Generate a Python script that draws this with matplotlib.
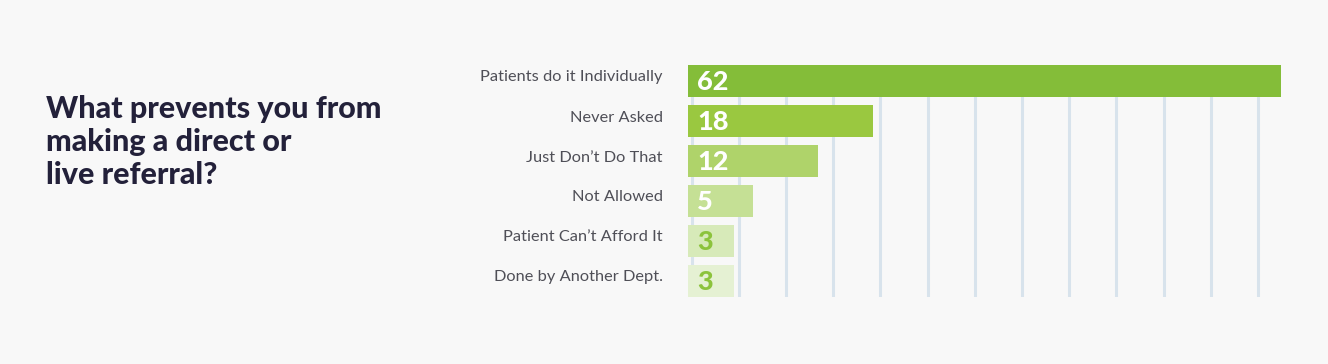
import numpy as np
import matplotlib.pyplot as plt
from matplotlib import transforms

categories = [
    "Patients do it Individually",
    "Never Asked",
    "Just Don\u2019t Do That",
    "Not Allowed",
    "Patient Can\u2019t Afford It",
    "Done by Another Dept.",
]
values = [62, 18, 12, 5, 3, 3]
bar_colors = ["#84bd39", "#9ac840", "#afd36a", "#c5e095", "#d7eab9", "#e5f1d3"]
label_colors = ["white", "white", "white", "white", "#8cc33c", "#8cc33c"]
title = "What prevents you from\nmaking a direct or\nlive referral?"

bg = "#f8f8f8"
fig = plt.figure(figsize=(13.28, 3.64), dpi=100, facecolor=bg)

# title on the left
fig.text(46 / 1328, 1 - 95 / 364, title, ha="left", va="top",
         fontsize=22, fontweight=900, family=["Lato", "DejaVu Sans"],
         color="#23213a", linespacing=1.22)

# bar axes (pixel placement)
W, H = 1328, 364
left_px, right_px = 688, 1300
top_px, bot_px = 65, 297
ax = fig.add_axes([left_px / W, 1 - bot_px / H, (right_px - left_px) / W, (bot_px - top_px) / H])
ax.set_facecolor(bg)

pad = 2.0  # minimum stub so small bars stay readable
px_per_unit = 9.27
x_min = -pad
x_max = x_min + (right_px - left_px) / px_per_unit
ax.set_xlim(x_min, x_max)
y = np.arange(len(values))
ax.set_ylim(len(values) - 0.6, -0.4)

# vertical guide lines
grid_x = np.arange(-1.6, 61, 5.09)
for gx in grid_x:
    ax.axvline(gx, color="#d8e3ec", lw=2.2, zorder=0)

ax.barh(y, np.array(values) + pad, left=-pad, height=0.81, color=bar_colors, zorder=2)

for i, v in enumerate(values):
    ax.text(-pad + 1.0, i + 0.03, str(v), ha="left", va="center", fontsize=19.5,
            fontweight=900, family=["Lato", "DejaVu Sans"],
            color=label_colors[i], zorder=3)

ax.set_yticks(y)
ax.set_yticklabels(categories, fontsize=11.8, family=["Lato", "DejaVu Sans"], color="#4f4f57")
ax.tick_params(axis="y", length=0, pad=18)
ax.tick_params(axis="x", length=0, labelbottom=False)
for lbl in ax.get_yticklabels():
    lbl.set_transform(lbl.get_transform() + transforms.ScaledTranslation(0, 5 / 100, fig.dpi_scale_trans))
for s in ax.spines.values():
    s.set_visible(False)

fig.savefig("out.png", dpi=100, facecolor=bg)
